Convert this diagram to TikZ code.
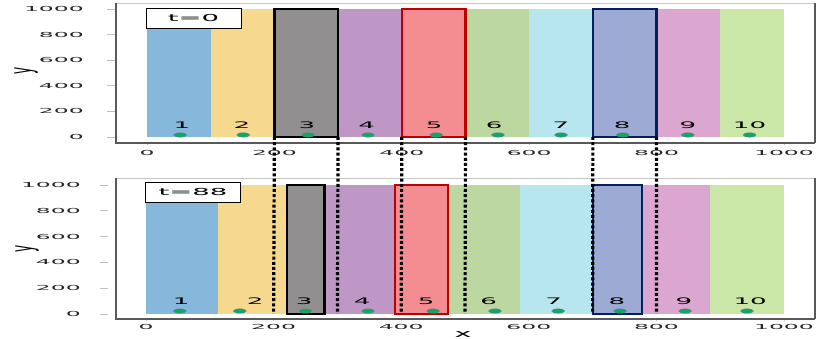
\documentclass[tikz,border=0pt]{standalone}
\usepackage{fontspec}
\setmainfont{DejaVu Sans}
\usepackage{graphicx}
\definecolor{cA}{HTML}{86B8DB}
\definecolor{cB}{HTML}{F6D88E}
\definecolor{cC}{HTML}{918F90}
\definecolor{cD}{HTML}{BF97C7}
\definecolor{cE}{HTML}{F48D91}
\definecolor{cF}{HTML}{BDD7A1}
\definecolor{cG}{HTML}{B8E6EF}
\definecolor{cH}{HTML}{9DAAD4}
\definecolor{cI}{HTML}{DBA6CF}
\definecolor{cJ}{HTML}{CBE7A8}
\definecolor{redb}{HTML}{C00000}
\definecolor{navyb}{HTML}{002060}
\definecolor{dotg}{HTML}{12A85A}
\definecolor{dotb}{HTML}{5A82AE}
\newcommand\wtxt[3]{\scalebox{#1}[1]{\fontsize{#2}{#2}\selectfont #3}}
\tikzset{
  ticklab/.style={inner sep=0pt, text=black!85},
  barlab/.style={inner sep=0pt},
  seed/.style={fill=dotg, draw=dotb, line width=0.4pt},
  tickmark/.style={draw=gray!50, line width=0.8pt},
  blackbox/.style={draw=black, line width=2.6pt},
  redbox/.style={draw=redb, line width=2.2pt},
  navybox/.style={draw=navyb, line width=2.2pt},
  timebox/.style={draw=black, fill=white, line width=0.8pt, minimum width=95pt, minimum height=20pt, inner sep=0pt},
  cut/.style={line width=3.2pt, dash pattern=on 3pt off 2.2pt},
}
\begin{document}
\begin{tikzpicture}[x=1pt,y=1pt]
\useasboundingbox (0,0) rectangle (831,339);
\fill[white] (0,0) rectangle (831,339);

% ---------- top panel ----------
\begin{scope}[shift={(147pt,202pt)}, x=0.637pt, y=0.128pt]
  \foreach \a/\b/\c in {0/100/cA,100/200/cB,200/300/cC,300/400/cD,400/500/cE,500/600/cF,600/700/cG,700/800/cH,800/900/cI,900/1000/cJ}
    \fill[\c] (\a,0) rectangle (\b,1000);
  \draw[blackbox] (200,0) rectangle (300,1000);
  \draw[redbox] (400,0) rectangle (500,1000);
  \draw[navybox] (700,0) rectangle (800,1000);
  \foreach \n/\lx/\dx in {1/55/52,2/149/151,3/251/253,4/345/347,5/451/454,6/545/551,7/650/650,8/746/747,9/849/849,10/946/946}{
    \node[barlab] (tl\n) at (\lx,94) {\wtxt{2.9}{9}{\n}};
    \draw[seed] (\dx,16) ellipse [x radius=6.5pt, y radius=2.2pt];
  }
  \foreach \v in {0,200,400,600,800,1000}{
    \draw[tickmark] (-63,\v) -- (-50,\v);
    \node[ticklab, anchor=east] (ty\v) at (-99,\v) {\wtxt{3.4}{6.9}{\v}};
    \draw[tickmark] (\v,-48) -- (\v,-62);
    \node[ticklab] (tx\v) at (\v,-125) {\wtxt{3.4}{6.9}{\v}};
  }
  \foreach \v in {200,300,400,500,700,800}
    \coordinate (t\v) at (\v,0);
\end{scope}
\draw[gray!45, line width=0.8pt] (116,336) -- (815,336);
\draw[gray!70!black, line width=1.2pt] (815,336) -- (815,196);
\draw[gray!70!black, line width=1.4pt] (116,336) -- (116,196) -- (815,196);
\node[timebox] (t0box) at (193.5,321) {\wtxt{2.87}{9.6}{t=0}};
\node (ylab1) at (26,268) {\scalebox{2.6}[1]{\rotatebox{90}{\fontsize{12}{12}\selectfont y}}};

% ---------- bottom panel ----------
\begin{scope}[shift={(146pt,25pt)}, x=0.638pt, y=0.129pt]
  \foreach \a/\b/\c in {0/113/cA,113/221/cB,221/280/cC,280/390/cD,390/473/cE,473/586/cF,586/701/cG,701/778/cH,778/884/cI,884/1000/cJ}
    \fill[\c] (\a,0) rectangle (\b,1000);
  \draw[blackbox] (221,0) rectangle (280,1000);
  \draw[redbox] (390,0) rectangle (473,1000);
  \draw[navybox] (701,0) rectangle (778,1000);
  \foreach \n/\lx/\dx in {1/55/53,2/171/147,3/248/250,4/339/348,5/439/450,6/537/547,7/639/646,8/738/743,9/843/845,10/947/942}{
    \node[barlab] (bl\n) at (\lx,100) {\wtxt{2.9}{9}{\n}};
    \draw[seed] (\dx,23) ellipse [x radius=6.5pt, y radius=2.2pt];
  }
  \foreach \v in {0,200,400,600,800,1000}{
    \draw[tickmark] (-72,\v) -- (-60,\v);
    \node[ticklab, anchor=east] (by\v) at (-102,\v) {\wtxt{3.4}{6.9}{\v}};
    \draw[tickmark] (\v,-39) -- (\v,-52);
    \node[ticklab] (bx\v) at (\v,-101) {\wtxt{3.4}{6.9}{\v}};
  }
  \foreach \v in {200,300,400,500,700,800}
    \coordinate (b\v) at (\v,0);
\end{scope}
\draw[gray!45, line width=0.8pt] (116,161) -- (815,161);
\draw[gray!70!black, line width=1.2pt] (815,161) -- (815,20);
\draw[gray!70!black, line width=1.4pt] (116,161) -- (116,20) -- (815,20);
\node[timebox] (t88box) at (193,146.5) {\wtxt{2.87}{9.6}{t=88}};
\node (ylab2) at (27,90) {\scalebox{2.6}[1]{\rotatebox{90}{\fontsize{12}{12}\selectfont y}}};
\node (xlab) at (463,5) {\wtxt{2.6}{11}{x}};

% ---------- dotted correspondence lines ----------
\foreach \v in {200,300,400,500,700,800}
  \draw[cut] (t\v) -- (b\v);
\end{tikzpicture}
\end{document}
